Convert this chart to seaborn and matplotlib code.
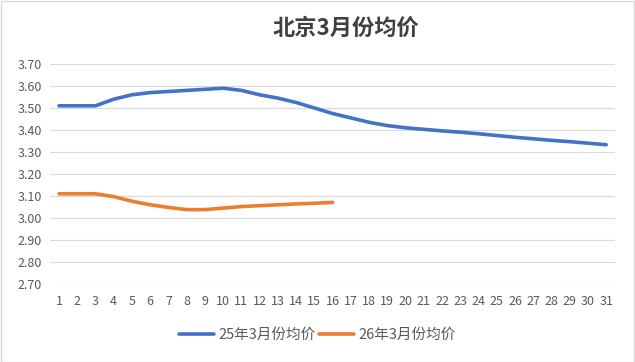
import pandas as pd
import matplotlib.pyplot as plt
import seaborn as sns
from matplotlib.patches import Rectangle

# values
days = list(range(1, 32))
price_25 = [3.51, 3.51, 3.51, 3.54, 3.56, 3.57, 3.575, 3.58, 3.585, 3.59,
            3.58, 3.56, 3.545, 3.525, 3.50, 3.475, 3.455, 3.435, 3.42, 3.41,
            3.403, 3.396, 3.39, 3.383, 3.375, 3.367, 3.36, 3.353, 3.347, 3.34, 3.333]
price_26 = [3.11, 3.11, 3.11, 3.097, 3.076, 3.06, 3.048, 3.038, 3.038, 3.045,
            3.052, 3.056, 3.06, 3.064, 3.067, 3.071]
series_names = ["25年3月份均价", "26年3月份均价"]
colors = ["#4472C4", "#ED7D31"]
y_ticks = [2.70, 2.80, 2.90, 3.00, 3.10, 3.20, 3.30, 3.40, 3.50, 3.60, 3.70]

df = pd.concat([
    pd.DataFrame({"day": days, "price": price_25, "series": series_names[0]}),
    pd.DataFrame({"day": days[:len(price_26)], "price": price_26, "series": series_names[1]}),
])

sns.set_style("white")
plt.rcParams["font.family"] = ["Noto Sans CJK SC", "DejaVu Sans"]

fig = plt.figure(figsize=(6.35, 3.62), dpi=100)
ax = fig.add_axes([0.0786, 0.2155, 0.8904, 0.6077])

sns.lineplot(data=df, x="day", y="price", hue="series", palette=colors,
             linewidth=2.6, ax=ax, legend=True,
             solid_capstyle="round", solid_joinstyle="round")

ax.set_xlim(0.5, 31.5)
ax.set_ylim(2.70, 3.70)
ax.set_xticks(days)
ax.set_xticklabels([str(d) for d in days])
ax.set_yticks(y_ticks)
ax.set_yticklabels([f"{v:.2f}" for v in y_ticks])
ax.tick_params(axis="both", length=0, labelsize=9, labelcolor="#595959")
ax.tick_params(axis="x", pad=8)
ax.tick_params(axis="y", pad=6)
ax.grid(axis="y", color="#d9d9d9", linewidth=0.8)
ax.set_axisbelow(True)
for s in ax.spines.values():
    s.set_visible(False)
ax.set_xlabel("")
ax.set_ylabel("")

fig.text(0.545, 0.923, "北京3月份均价", ha="center", va="center",
         fontsize=16, fontweight="bold", color="#404040")

handles, labels = ax.get_legend_handles_labels()
for h in handles:
    h.set_solid_capstyle("round")
ax.legend(handles, labels, loc="center", bbox_to_anchor=(0.5, 0.075),
          bbox_transform=fig.transFigure, ncol=2, frameon=False,
          fontsize=10.5, labelcolor="#595959", handlelength=2.4,
          handletextpad=0.3, columnspacing=0.2)

fig.patches.append(Rectangle((0.001, 0.001), 0.997, 0.997, transform=fig.transFigure,
                             fill=False, edgecolor="#d9d9d9", linewidth=1))

fig.savefig("out.png", dpi=100)
